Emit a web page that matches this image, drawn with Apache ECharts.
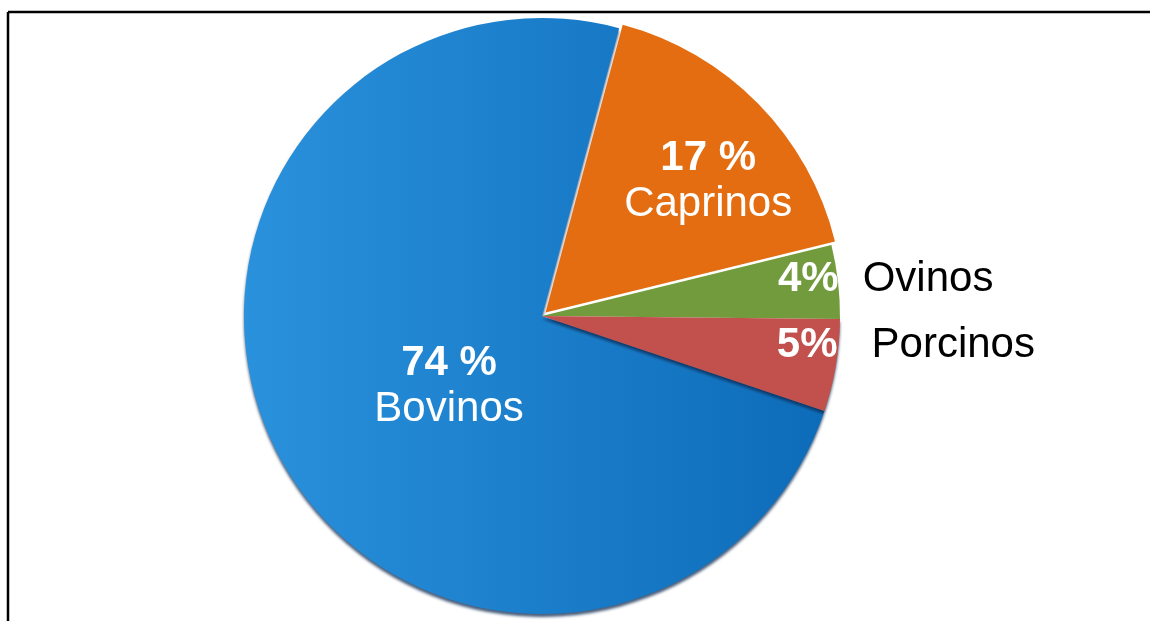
<!DOCTYPE html>
<html>
<head>
<meta charset="utf-8">
<script src="https://cdn.jsdelivr.net/npm/echarts@6/dist/echarts.min.js"></script>
<style>
  html, body { margin: 0; padding: 0; background: #ffffff; overflow: hidden; }
  #chart { width: 1150px; height: 621px; }
</style>
</head>
<body>
<div id="chart"></div>
<script>
// ---- data ----
const categories = ['Bovinos', 'Caprinos', 'Ovinos', 'Porcinos'];
const values = [74, 17, 4, 5];
const percentLabels = ['74 %', '17 %', '4%', '5%'];

// ---- styles ----
const sliceColors = [
  { type: 'linear', x: 0, y: 0, x2: 1, y2: 0,
    colorStops: [{ offset: 0, color: '#2a91dc' }, { offset: 1, color: '#0d6cb9' }] },
  '#e36d10',
  '#729b3d',
  '#c2504c'
];
const sliceShadow = [true, false, false, true];
const insideNames = [true, true, false, false];
// label offsets relative to the library's default inside position
const labelMoves = [
  { dx: 41, dy: -1 },
  { dx: 54, dy: -25 },
  { dx: 85, dy: -19, align: 'left' },
  { dx: 85, dy: 4, align: 'left' }
];
const gapKeys = ['', '', 'g1', 'g2'];
const FONT = '"Liberation Sans", Arial, sans-serif';

const chart = echarts.init(document.getElementById('chart'), null, { renderer: 'canvas' });

const seriesData = categories.map((name, i) => ({
  name: name,
  value: values[i],
  selected: name === 'Caprinos',
  itemStyle: Object.assign({ color: sliceColors[i] },
    sliceShadow[i] ? { shadowColor: 'rgba(10, 40, 80, 0.75)', shadowBlur: 3, shadowOffsetY: 3 } : {})
}));

chart.setOption({
  animation: false,
  backgroundColor: '#ffffff',
  graphic: [
    { type: 'line', silent: true, z: -10,
      shape: { x1: 8, y1: 12, x2: 1150, y2: 12 },
      style: { stroke: '#000000', lineWidth: 2.5 } },
    { type: 'line', silent: true, z: -10,
      shape: { x1: 8, y1: 12, x2: 8, y2: 621 },
      style: { stroke: '#000000', lineWidth: 2.5 } }
  ],
  series: [{
    type: 'pie',
    center: [542, 316],
    radius: [0, 298],
    startAngle: -18.6,
    clockwise: true,
    selectedMode: 'single',
    selectedOffset: 5,
    avoidLabelOverlap: false,
    emphasis: { disabled: true },
    label: {
      show: true,
      position: 'inside',
      fontFamily: FONT,
      formatter: function (p) {
        const i = p.dataIndex;
        if (insideNames[i]) {
          return '{p|' + percentLabels[i] + '}\n{n|' + categories[i] + '}';
        }
        return '{p|' + percentLabels[i] + '}{' + gapKeys[i] + '| }{k|' + categories[i] + '}';
      },
      rich: {
        p: { fontSize: 42, fontWeight: 'bold', color: '#ffffff', lineHeight: 46, fontFamily: FONT },
        n: { fontSize: 42, color: '#ffffff', lineHeight: 46, fontFamily: FONT },
        k: { fontSize: 42, color: '#000000', lineHeight: 46, fontFamily: FONT },
        g1: { width: 24, fontSize: 42 },
        g2: { width: 34, fontSize: 42 }
      }
    },
    labelLine: { show: false },
    labelLayout: function (params) {
      const m = labelMoves[params.dataIndex];
      const out = { dx: m.dx, dy: m.dy };
      if (m.align) out.align = m.align;
      return out;
    },
    data: seriesData
  }]
});
</script>
</body>
</html>
